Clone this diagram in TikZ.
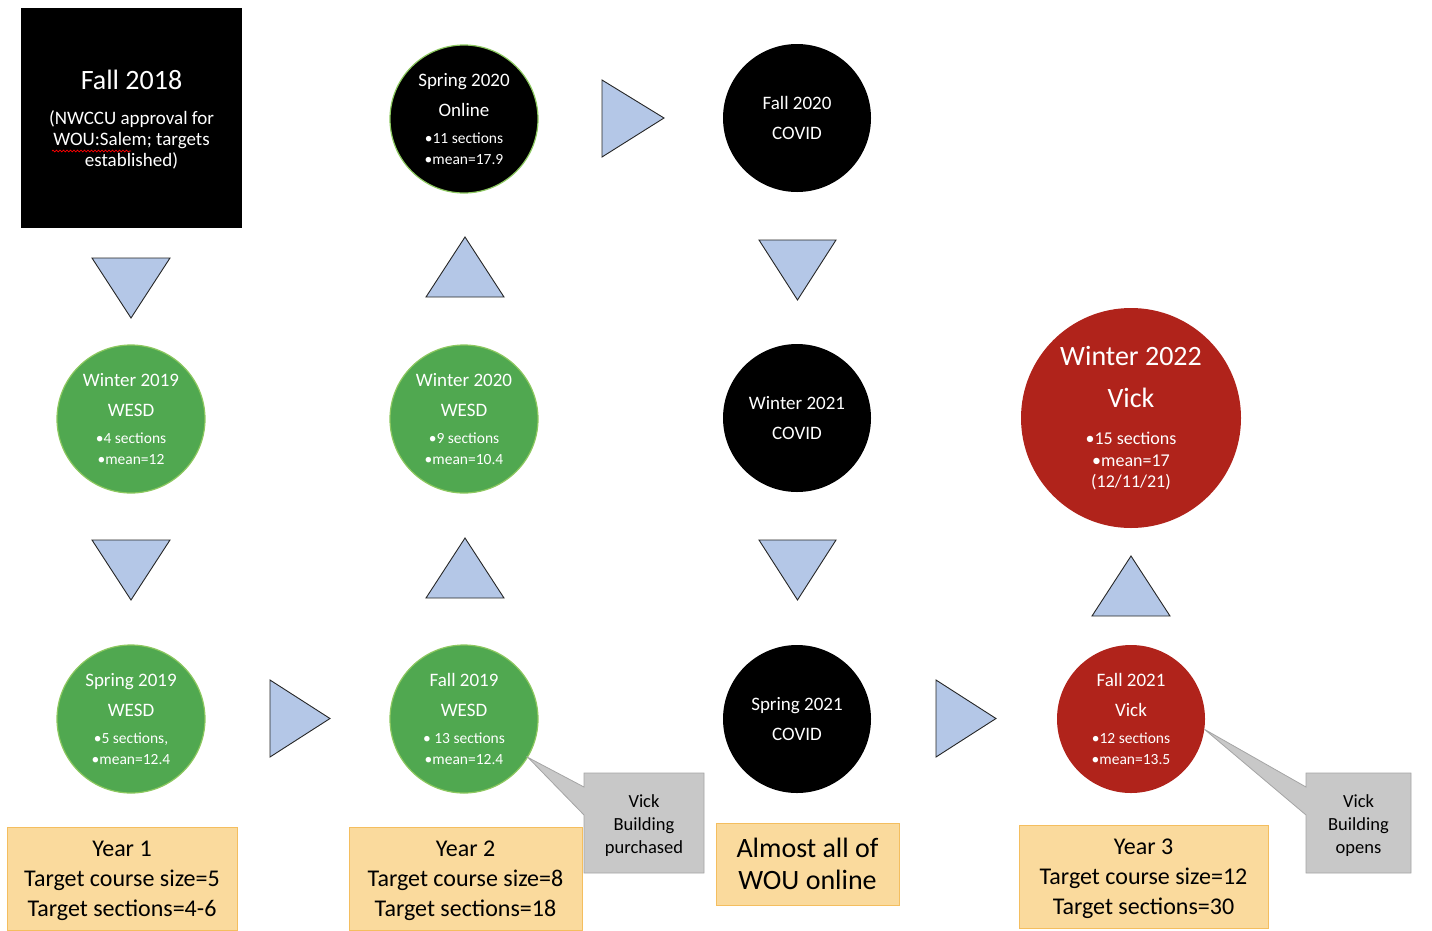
\documentclass[tikz,border=0pt]{standalone}
\usepackage{fontspec}
\setmainfont{Carlito}
\usetikzlibrary{shapes.callouts,decorations.pathmorphing}
\definecolor{grn}{RGB}{80,168,80}
\definecolor{grnedge}{RGB}{140,200,95}
\definecolor{redc}{RGB}{176,35,27}
\definecolor{triblue}{RGB}{180,199,231}
\definecolor{yel}{RGB}{250,218,157}
\definecolor{yeledge}{RGB}{244,190,95}
\definecolor{gry}{RGB}{200,200,200}
\definecolor{gryedge}{RGB}{165,165,165}
\newcommand\bul{\fontsize{15.5}{21}\selectfont}
\newcommand\midt{\fontsize{18}{21.5}\selectfont}
\begin{document}
\begin{tikzpicture}[x=1pt,y=-1pt,
  circ/.style={circle, minimum size=148pt, inner sep=0pt, align=center, text=white,
     font=\fontsize{19}{30}\selectfont},
  gcirc/.style={circ, fill=grn, draw=grnedge, line width=1.2pt},
  bcirc/.style={circ, fill=black},
  rcirc/.style={circ, fill=redc},
  tri/.style={fill=triblue, draw=black!85, line width=0.9pt, line join=miter},
  ybox/.style={rectangle, fill=yel, draw=yeledge, line width=0.8pt, align=center, inner sep=0pt,
     font=\fontsize{24}{30}\selectfont},
  gbox/.style={rectangle callout, fill=gry, draw=gryedge, line width=0.8pt, align=center,
     minimum height=100pt, inner sep=0pt, callout pointer width=28pt,
     font=\fontsize{18.5}{23}\selectfont}]
\useasboundingbox (0,0) rectangle (1432,930);

% Fall 2018 box
\node[rectangle, fill=black, minimum width=221pt, minimum height=220pt, inner sep=0pt,
  align=center, text=white, font=\fontsize{19}{21}\selectfont] (f18) at (131.5,118)
  {{\fontsize{28}{30}\selectfont\rule{0pt}{23pt}Fall 2018}\\[14pt]
   (NWCCU approval for\\ WOU:Salem; targets\\ established)};
\draw[red, line width=0.7pt, decorate, decoration={snake, amplitude=0.9pt, segment length=3.5pt}]
  (52,151) -- (131,151);

% triangles
\draw[tri] (92,258) -- (170,258) -- (131,318) -- cycle;
\draw[tri] (92,540) -- (170,540) -- (131,600) -- cycle;
\draw[tri] (270,680) -- (330,718.5) -- (270,757) -- cycle;
\draw[tri] (426,598) -- (504,598) -- (465,538) -- cycle;
\draw[tri] (426,297) -- (504,297) -- (465,237) -- cycle;
\draw[tri] (602,80) -- (664,118) -- (602,157) -- cycle;
\draw[tri] (759,240) -- (836,240) -- (797.5,300) -- cycle;
\draw[tri] (759,540) -- (836,540) -- (797.5,600) -- cycle;
\draw[tri] (936,680) -- (996,718.5) -- (936,757) -- cycle;
\draw[tri] (1092,616) -- (1170,616) -- (1131,556) -- cycle;

% circles
\node[gcirc] (w19) at (131,419) {Winter 2019\\ WESD\\[-3pt]{\bul •4 sections}\\[-9pt]{\bul •mean=12}};
\node[gcirc] (s19) at (131,719) {Spring 2019\\ WESD\\[-3pt]{\bul •5 sections,}\\[-9pt]{\bul •mean=12.4}};
\node[gcirc] (w20) at (464,419) {Winter 2020\\ WESD\\[-3pt]{\bul •9 sections}\\[-9pt]{\bul •mean=10.4}};
\node[gcirc] (f19) at (464,719) {Fall 2019\\ WESD\\[-3pt]{\bul • 13 sections}\\[-9pt]{\bul •mean=12.4}};
\node[bcirc, draw=grnedge, line width=1.2pt] (s20) at (464,119) {Spring 2020\\ Online\\[-3pt]{\bul •11 sections}\\[-9pt]{\bul •mean=17.9}};
\node[bcirc] (f20) at (797,118) {Fall 2020\\ COVID};
\node[bcirc] (w21) at (797,418) {Winter 2021\\ COVID};
\node[bcirc] (s21) at (797,719) {Spring 2021\\ COVID};
\node[rcirc] (f21) at (1131,719) {Fall 2021\\ Vick\\[-3pt]{\bul •12 sections}\\[-9pt]{\bul •mean=13.5}};
\node[rcirc, minimum size=220pt, font=\fontsize{28}{42}\selectfont] (w22) at (1131,418)
  {Winter 2022\\ Vick\\[-5pt]
   {\midt •15 sections}\\[-20pt]{\midt •mean=17}\\[-21pt]{\midt (12/11/21)}};

% callouts
\node[gbox, minimum width=120pt, callout absolute pointer={(f19.-31)}] (vb1) at (644,823)
  {\rule{0pt}{18pt}Vick\\ Building\\ purchased};
\node[gbox, minimum width=105pt, callout absolute pointer={(f21.-8.5)}] (vb2) at (1358.5,823)
  {\rule{0pt}{18pt}Vick\\ Building\\ opens};

% yellow boxes
\node[ybox, minimum width=230pt, minimum height=103pt] (y1) at (122,878.5)
  {\rule{0pt}{19.5pt}Year 1\\ Target course size=5\\ Target sections=4-6};
\node[ybox, minimum width=233pt, minimum height=103pt] (y2) at (465.5,878.5)
  {\rule{0pt}{19.5pt}Year 2\\ Target course size=8\\ Target sections=18};
\node[ybox, minimum width=183pt, minimum height=82pt, font=\fontsize{28}{32}\selectfont] (almost) at (807.5,864)
  {Almost all of\\ WOU online};
\node[ybox, minimum width=249pt, minimum height=103pt] (y3) at (1143.5,876.5)
  {\rule{0pt}{19.5pt}Year 3\\ Target course size=12\\ Target sections=30};
\end{tikzpicture}
\end{document}
